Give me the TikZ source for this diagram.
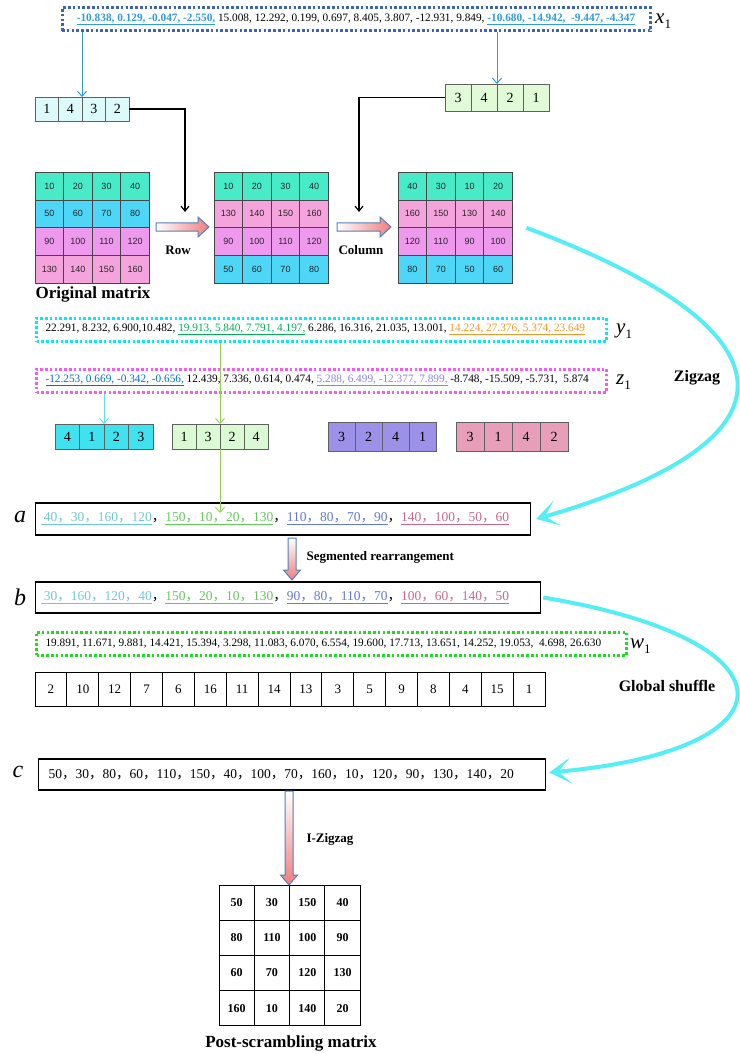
\documentclass[tikz,border=0pt]{standalone}
\usepackage{fontspec}
\setmainfont{Liberation Serif}
\setsansfont{Liberation Sans}
\newfontfamily\cjkf{Noto Sans CJK SC}
\usetikzlibrary{arrows.meta,calc}
\definecolor{xdot}{RGB}{60,100,180}
\definecolor{xblue}{RGB}{45,155,220}
\definecolor{ydot}{RGB}{0,235,245}
\definecolor{ygreen}{RGB}{0,176,80}
\definecolor{yorange}{RGB}{245,150,40}
\definecolor{zdot}{RGB}{245,90,245}
\definecolor{zblue}{RGB}{0,112,192}
\definecolor{zpurple}{RGB}{140,130,230}
\definecolor{wdot}{RGB}{30,220,30}
\definecolor{mg}{RGB}{72,235,200}
\definecolor{mb}{RGB}{77,214,245}
\definecolor{mv}{RGB}{238,153,238}
\definecolor{mp}{RGB}{245,163,220}
\definecolor{pafill}{RGB}{220,250,250}
\definecolor{pbfill}{RGB}{226,250,215}
\definecolor{pcfill}{RGB}{64,226,240}
\definecolor{pgfill}{RGB}{218,250,212}
\definecolor{ppfill}{RGB}{155,145,232}
\definecolor{pkfill}{RGB}{232,158,185}
\definecolor{acyan}{RGB}{110,200,215}
\definecolor{agreen}{RGB}{100,200,90}
\definecolor{ablue}{RGB}{100,120,215}
\definecolor{apink}{RGB}{200,105,140}
\definecolor{zigc}{RGB}{85,238,245}
\definecolor{thingreen}{RGB}{146,208,80}
\definecolor{thincyan}{RGB}{90,225,240}
\definecolor{arrowblue}{RGB}{79,129,189}
\definecolor{arrowpink}{RGB}{240,125,125}
\definecolor{cellline}{RGB}{70,70,70}
\newcommand\fs[1]{\fontsize{#1}{#1}\selectfont}
\newcommand\fc{{\cjkf ，}}
\newcommand\ulc[2]{\textcolor{#1}{\underline{#2}}}
\newcommand\sublab[1]{{\fs{21}\itshape #1}\raisebox{-4.5pt}{\fs{13}1}}
\newcommand\colmat[4]{%
  \foreach \r/\cc/\vals in {#4}{%
    \foreach \v [count=\k] in \vals {%
      \node[cell, fill=\cc] (#1-\r-\k) at ({#2+(\k-0.5)*28.6},{#3+(\r-0.5)*27.9}) {\v};
    }%
  }%
  \node[inner sep=0pt, outer sep=0pt, minimum width=114.4pt, minimum height=111.6pt] (#1) at ({#2+57.2},{#3+55.8}) {};
}
\newcommand\permbox[8]{% name, x0, y0, cw, ch, style, n, list
  \foreach \v [count=\k] in {#8} {%
    \node[pcell, #6, minimum width=#4pt, minimum height=#5pt] (#1-\k) at ({#2+(\k-0.5)*#4},{#3+0.5*#5}) {\v};
  }%
  \node[inner sep=0pt, outer sep=0pt, minimum width=#7*#4pt, minimum height=#5pt] (#1) at ({#2+#7*#4/2},{#3+#5/2}) {};
}
\newcommand\harrow[3]{%
  \path[draw=arrowblue, line width=1pt, left color=white, right color=arrowpink]
    (#1,{#3-4.2}) -- ({#2-11},{#3-4.2}) -- ({#2-11},{#3-10}) -- (#2,#3) -- ({#2-11},{#3+10}) -- ({#2-11},{#3+4.2}) -- (#1,{#3+4.2}) -- cycle;}
\newcommand\varrow[3]{%
  \path[draw=arrowblue, line width=1pt, top color=white, bottom color=arrowpink]
    ({#1-4},#2) -- ({#1-4},{#3-10}) -- ({#1-8.5},{#3-10}) -- (#1,#3) -- ({#1+8.5},{#3-10}) -- ({#1+4},{#3-10}) -- ({#1+4},#2) -- cycle;}
\begin{document}
\begin{tikzpicture}[x=1pt,y=-1pt,
  cell/.style={draw=cellline, line width=0.8pt, inner sep=0pt, outer sep=0pt, minimum width=28.6pt, minimum height=27.9pt, font=\sffamily\fs{9}, text=black!85},
  pcell/.style={draw=gray!75!black, line width=0.8pt, inner sep=0pt, outer sep=0pt, font=\fs{14}},
  fcell/.style={draw=black, line width=1pt, inner sep=0pt, outer sep=0pt, minimum width=35.3pt, minimum height=35.2pt, font=\bfseries\fs{12}},
  dotbox/.style={line width=3pt, dash pattern=on 2.6pt off 2.2pt, inner ysep=0pt, minimum height=23pt, font=\fs{11.3}},
  rowbox/.style={draw=black, line width=1.2pt, inner ysep=0pt, anchor=west, font=\fs{13.5}},
  biglab/.style={font=\fs{24}\itshape},
  title/.style={font=\bfseries\fs{17}},
  op/.style={font=\bfseries\fs{13}},
  bigop/.style={font=\bfseries\fs{16}},
  bluethin/.style={draw=xblue, line width=1pt, -{Straight Barb[length=5pt,width=9pt]}},
  greenthin/.style={draw=thingreen, line width=0.9pt, -{Straight Barb[length=5pt,width=9pt]}},
  cyanthin/.style={draw=thincyan, line width=0.9pt, -{Straight Barb[length=5pt,width=9pt]}},
  blackconn/.style={draw=black, line width=1.2pt, -{Straight Barb[length=5pt,width=8pt]}},
  zig/.style={draw=zigc, line width=4pt, -{Stealth[length=22pt,width=26pt,inset=13pt]}}
]
\useasboundingbox (0,0) rectangle (739,1054);

% ---- x1 ----
\node[dotbox, draw=xdot, minimum width=588pt] (x1) at (356,19.5)
 {\ulc{xblue}{\bfseries -10.838, 0.129, -0.047, -2.550,} 15.008, 12.292, 0.199, 0.697, 8.405, 3.807, -12.931, 9.849, \ulc{xblue}{\bfseries -10.680, -14.942,~ -9.447, -4.347}};
\node[anchor=west, inner sep=0pt] (lx1) at (655,21) {\sublab{x}};

% ---- permutation boxes (top) ----
\permbox{pA}{35}{97}{23.5}{24}{fill=pafill}{4}{1,4,3,2}
\permbox{pB}{445}{84}{26}{27}{fill=pbfill}{4}{3,4,2,1}
\draw[bluethin] (x1.south -| pA.north) -- (pA.north);
\draw[bluethin] (x1.south -| pB.north) -- (pB.north);

% ---- matrices ----
\colmat{M1}{35}{172}{1/mg/{10,20,30,40},2/mb/{50,60,70,80},3/mv/{90,100,110,120},4/mp/{130,140,150,160}}
\colmat{M2}{214}{172}{1/mg/{10,20,30,40},2/mp/{130,140,150,160},3/mv/{90,100,110,120},4/mb/{50,60,70,80}}
\colmat{M3}{398}{172}{1/mg/{40,30,10,20},2/mp/{160,150,130,140},3/mv/{120,110,90,100},4/mb/{80,70,50,60}}
\node[title] (origlab) at (93,294) {Original matrix};

\harrow{156}{209}{227}
\harrow{337}{391}{227}
\node[op] (rowlab) at (178,250) {Row};
\node[op] (collab) at (361,250) {Column};
\coordinate (rowin) at (185,212);
\coordinate (colin) at (359,212);
\draw[blackconn] (pA.east) -| (rowin);
\draw[blackconn] (pB.west) -| (colin);

% ---- y1, z1 ----
\node[dotbox, draw=ydot, anchor=west, inner xsep=9pt] (y1) at (35,329.5)
 {\makebox[552pt][l]{22.291, 8.232, 6.900,10.482, \ulc{ygreen}{19.913, 5.840, 7.791, 4.197,} 6.286, 16.316, 21.035, 13.001, \ulc{yorange}{14.224, 27.376, 5.374, 23.649}}};
\node[anchor=west, inner sep=0pt] (ly1) at (616,331) {\sublab{y}};
\node[dotbox, draw=zdot, anchor=west, inner xsep=9pt] (z1) at (35,380.5)
 {\makebox[552pt][l]{\ulc{zblue}{-12.253, 0.669, -0.342, -0.656,} 12.439, 7.336, 0.614, 0.474, \ulc{zpurple}{5.288, 6.499, -12.377, 7.899,} -8.748, -15.509, -5.731,~ 5.874}};
\node[anchor=west, inner sep=0pt] (lz1) at (616,382) {\sublab{z}};
\node[bigop] (ziglab) at (697,378) {Zigzag};

% ---- permutation row ----
\permbox{pC}{55}{424}{24.5}{25}{fill=pcfill}{4}{4,1,2,3}
\permbox{pG}{172}{424}{24}{25}{fill=pgfill}{4}{1,3,2,4}
\permbox{pP}{328}{422}{27}{29}{fill=ppfill}{4}{3,2,4,1}
\permbox{pK}{456}{422}{28}{29}{fill=pkfill}{4}{3,1,4,2}

% ---- a, b ----
\node[rowbox, inner xsep=5pt, minimum height=32pt] (a) at (35,519)
 {\makebox[485pt][l]{\ulc{acyan}{\ 40\fc 30\fc 160\fc 120}\fc\ulc{agreen}{150\fc 10\fc 20\fc 130}\fc\ulc{ablue}{110\fc 80\fc 70\fc 90}\fc\ulc{apink}{140\fc 100\fc 50\fc 60}}};
\node[biglab] (la) at (20,517) {a};
\draw[cyanthin] (z1.south -| pC.north) -- (pC.north);
\draw[greenthin] (y1.south -| pG.north) -- (pG.north);
\draw[greenthin] (pG.south) -- ($(pG.south |- a.center)+(0,-6)$);

\varrow{292}{538}{580}
\node[op, anchor=west] (seglab) at (303,557) {Segmented rearrangement};

\node[rowbox, inner xsep=5pt, minimum height=31pt] (b) at (35,597.5)
 {\makebox[495pt][l]{\ulc{acyan}{\ 30\fc 160\fc 120\fc 40}\fc\ulc{agreen}{150\fc 20\fc 10\fc 130}\fc\ulc{ablue}{90\fc 80\fc 110\fc 70}\fc\ulc{apink}{100\fc 60\fc 140\fc 50}}};
\node[biglab] (lb) at (20,597) {b};

% ---- w1 ----
\node[dotbox, draw=wdot, anchor=west, inner xsep=9pt] (w1) at (35,643.5)
 {\makebox[572pt][l]{19.891, 11.671, 9.881, 14.421, 15.394, 3.298, 11.083, 6.070, 6.554, 19.600, 17.713, 13.651, 14.252, 19.053,~ 4.698, 26.630}};
\node[anchor=west, inner sep=0pt] (lw1) at (630,646) {\sublab{w}};

\permbox{q}{35}{672}{31.875}{34}{draw=black, line width=1pt, fill=white, font=\fs{13}}{16}{2,10,12,7,6,16,11,14,13,3,5,9,8,4,15,1}
\node[bigop] (gslab) at (667,686) {Global shuffle};

% ---- c ----
\node[rowbox, inner xsep=10pt, minimum height=31pt] (c) at (38,774.5)
 {\makebox[487pt][l]{50\fc 30\fc 80\fc 60\fc 110\fc 150\fc 40\fc 100\fc 70\fc 160\fc 10\fc 120\fc 90\fc 130\fc 140\fc 20}};
\node[biglab] (lc) at (18,772) {c};

% ---- final matrix ----
\foreach \r/\vals in {1/{50,30,150,40},2/{80,110,100,90},3/{60,70,120,130},4/{160,10,140,20}}{%
  \foreach \v [count=\k] in \vals {%
    \node[fcell] (F-\r-\k) at ({219+(\k-0.5)*35.3},{885+(\r-0.5)*35.2}) {\v};
  }%
}
\node[inner sep=0pt, outer sep=0pt, minimum width=141.2pt, minimum height=140.8pt] (F) at (289.6,955.4) {};
\varrow{289}{791}{885}
\node[op] (izlab) at (330,839) {I-Zigzag};
\node[title] (postlab) at (291,1043) {Post-scrambling matrix};

% ---- big curves ----
\draw[zig] ($(M3.east)+(14,0)$) .. controls (800,330) and (810,440) .. ($(a.east)+(5,0)$);
\draw[zig] ($(b.east)+(2,0)$) .. controls (800,640) and (800,750) .. ($(c.east)+(3,-2)$);
\end{tikzpicture}
\end{document}
